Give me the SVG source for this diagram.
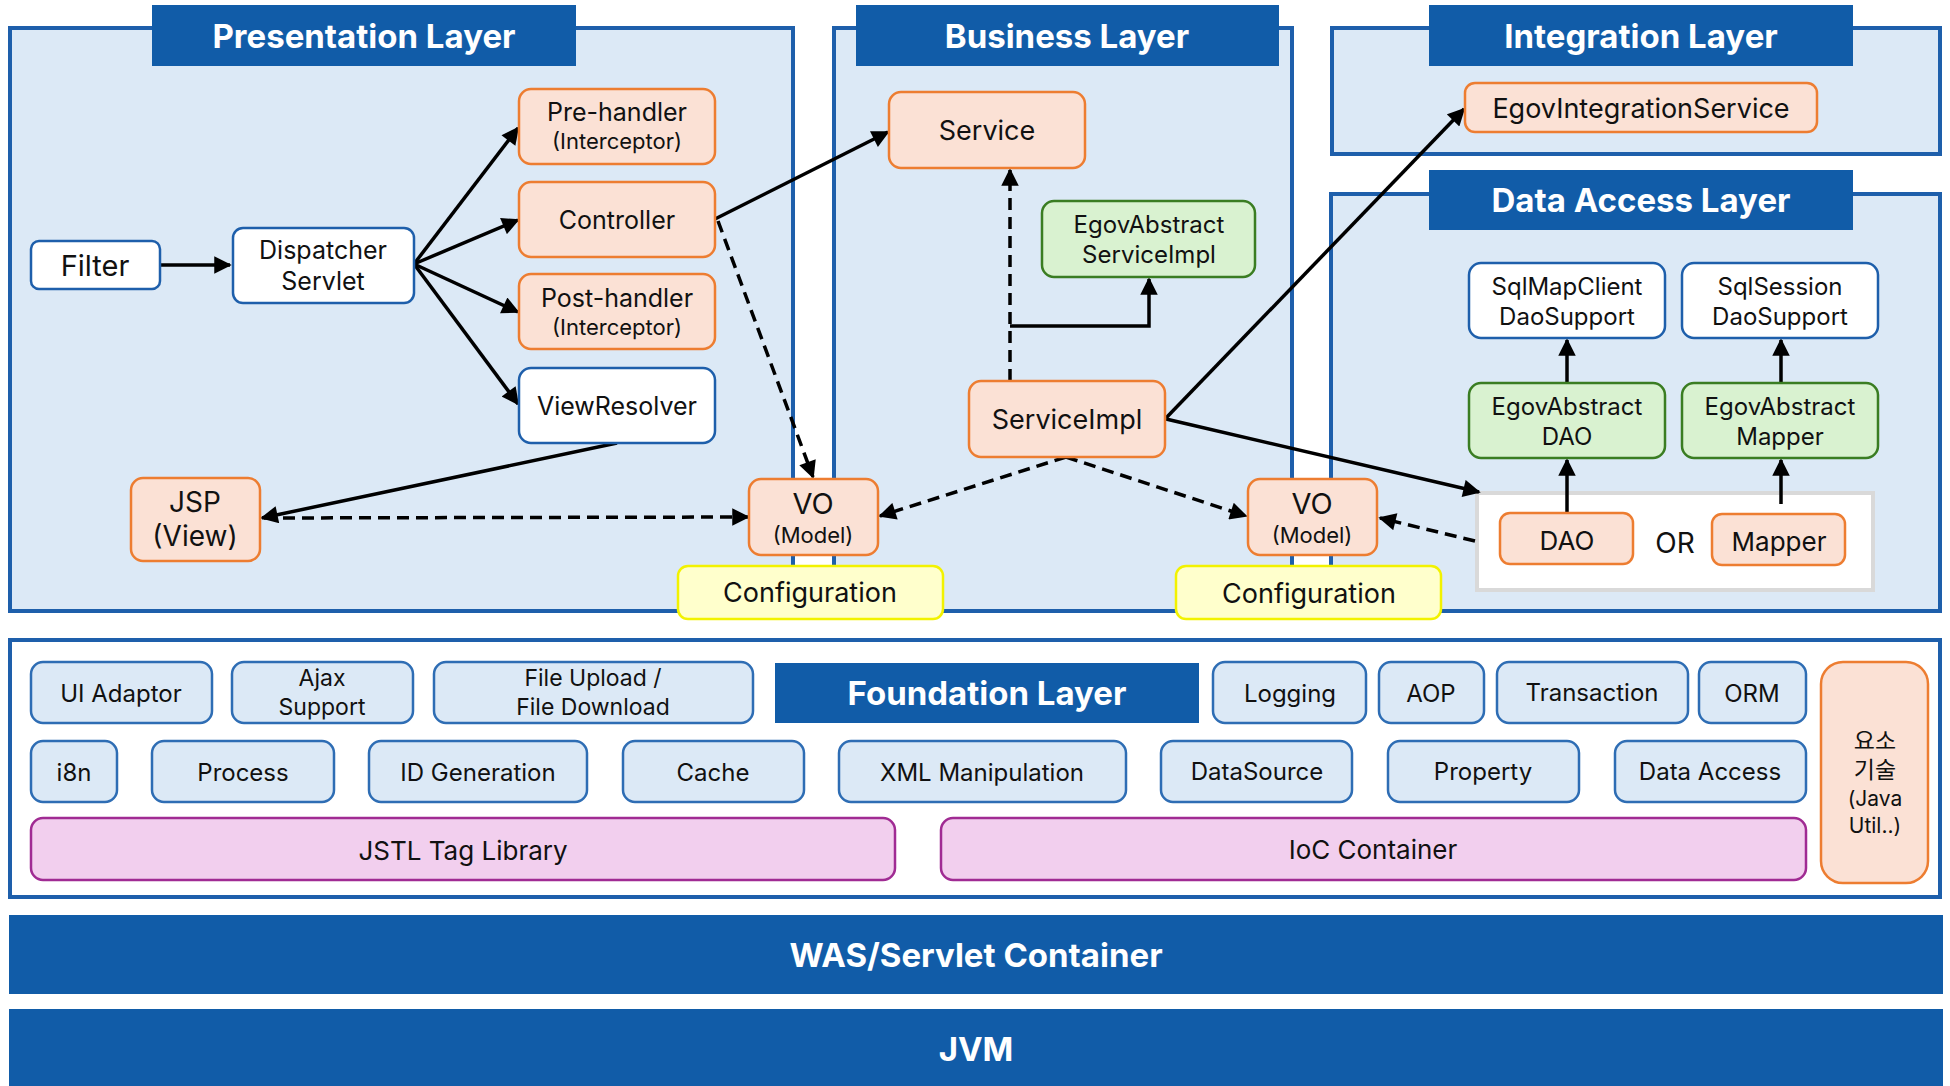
<svg xmlns="http://www.w3.org/2000/svg" width="1950" height="1086" viewBox="0 0 1950 1086">
<defs>
<style>
text{font-family:Inter,"Open Sans","Noto Sans CJK KR",sans-serif;fill:#111;text-anchor:middle;dominant-baseline:central}
.layer{fill:#DCE9F6;stroke:#1E5FAB;stroke-width:4}
.title{fill:#115CA8}
.ttl{fill:#fff;font-weight:bold;font-size:33px}
.org{fill:#FBE1D5;stroke:#ED7D31;stroke-width:2.5}
.grn{fill:#D9F2D0;stroke:#3A7D22;stroke-width:2.5}
.wht{fill:#fff;stroke:#1E5FAB;stroke-width:2.5}
.yel{fill:#FFFFCC;stroke:#F2F200;stroke-width:2.5}
.fnd{fill:#DCE9F6;stroke:#2E6DB4;stroke-width:2.5}
.pnk{fill:#F2CFEE;stroke:#A02B93;stroke-width:2.5}
.t26{font-size:26px}
.t25{font-size:25px}
.t24{font-size:24px}
.t21{font-size:22px}
.ln{stroke:#000;stroke-width:3.5;fill:none}
.ds{stroke:#000;stroke-width:3.5;fill:none;stroke-dasharray:12 7}
</style>
<marker id="ah" viewBox="0 0 10 10" refX="9" refY="5" markerWidth="5.5" markerHeight="5" orient="auto" markerUnits="strokeWidth">
<path d="M0,0 L10,5 L0,10 z" fill="#000"/>
</marker>
</defs>

<g id="layers">
<rect class="layer" x="10" y="28" width="783" height="583"/>
<rect class="layer" x="834" y="28" width="458" height="583"/>
<rect class="layer" x="1332" y="28" width="608" height="126"/>
<rect class="layer" x="1331" y="194" width="609" height="417"/>
<rect x="10" y="640" width="1930" height="257" fill="#fff" stroke="#1E5FAB" stroke-width="4"/>
</g>

<g id="titles">
<rect class="title" x="152" y="5" width="424" height="61"/>
<text class="ttl" x="364" y="36">Presentation Layer</text>
<rect class="title" x="856" y="5" width="423" height="61"/>
<text class="ttl" x="1067" y="36">Business Layer</text>
<rect class="title" x="1429" y="5" width="424" height="61"/>
<text class="ttl" x="1641" y="36">Integration Layer</text>
<rect class="title" x="1429" y="170" width="424" height="60"/>
<text class="ttl" x="1641" y="200">Data Access Layer</text>
<rect class="title" x="775" y="663" width="424" height="60"/>
<text class="ttl" x="987" y="693">Foundation Layer</text>
</g>

<g id="or-box">
<rect x="1477" y="493" width="396" height="97" fill="#fff" stroke="#D9D9D9" stroke-width="4"/>
<text x="1675" y="543" style="font-size:28px">OR</text>
</g>

<g id="connectors">
<line class="ln" x1="160" y1="265" x2="230" y2="265" marker-end="url(#ah)"/>
<line class="ln" x1="414" y1="264" x2="518" y2="128" marker-end="url(#ah)"/>
<line class="ln" x1="414" y1="264" x2="518" y2="220" marker-end="url(#ah)"/>
<line class="ln" x1="414" y1="264" x2="518" y2="312" marker-end="url(#ah)"/>
<line class="ln" x1="414" y1="264" x2="518" y2="404" marker-end="url(#ah)"/>
<line class="ln" x1="617" y1="443" x2="262" y2="518" marker-end="url(#ah)"/>
<line class="ds" x1="264" y1="518" x2="748" y2="517" marker-end="url(#ah)"/>
<line class="ln" x1="715" y1="219" x2="888" y2="132" marker-end="url(#ah)"/>
<line class="ds" x1="718" y1="221" x2="813" y2="477" marker-end="url(#ah)"/>
<line class="ds" x1="1010" y1="381" x2="1010" y2="170" marker-end="url(#ah)"/>
<polyline class="ln" points="1010,326 1149,326 1149,279" marker-end="url(#ah)"/>
<line class="ln" x1="1166" y1="418" x2="1464" y2="109" marker-end="url(#ah)"/>
<line class="ln" x1="1166" y1="419" x2="1479" y2="492" marker-end="url(#ah)"/>
<line class="ds" x1="1066" y1="457" x2="880" y2="516" marker-end="url(#ah)"/>
<line class="ds" x1="1066" y1="457" x2="1246" y2="516" marker-end="url(#ah)"/>
<line class="ds" x1="1475" y1="541" x2="1380" y2="518" marker-end="url(#ah)"/>
<line class="ln" x1="1567" y1="513" x2="1567" y2="460" marker-end="url(#ah)"/>
<line class="ln" x1="1567" y1="383" x2="1567" y2="340" marker-end="url(#ah)"/>
<line class="ln" x1="1781" y1="504" x2="1781" y2="460" marker-end="url(#ah)"/>
<line class="ln" x1="1781" y1="383" x2="1781" y2="340" marker-end="url(#ah)"/>
</g>

<g id="filter"><rect class="wht" x="31" y="241" width="129" height="48" rx="8"/><text x="95" y="265" style="font-size:29px">Filter</text></g>
<g id="dispatcher"><rect class="wht" x="233" y="228" width="181" height="75" rx="10"/><text class="t25"><tspan x="323" y="250">Dispatcher</tspan><tspan x="323" y="281">Servlet</tspan></text></g>
<g id="prehandler"><rect class="org" x="519" y="89" width="196" height="75" rx="12"/><text><tspan class="t25" x="617" y="112">Pre-handler</tspan><tspan class="t21" x="617" y="141">(Interceptor)</tspan></text></g>
<g id="controller"><rect class="org" x="519" y="182" width="196" height="75" rx="12"/><text class="t25" x="617" y="220">Controller</text></g>
<g id="posthandler"><rect class="org" x="519" y="274" width="196" height="75" rx="12"/><text><tspan class="t25" x="617" y="298">Post-handler</tspan><tspan class="t21" x="617" y="327">(Interceptor)</tspan></text></g>
<g id="viewresolver"><rect class="wht" x="519" y="368" width="196" height="75" rx="12"/><text class="t25" x="617" y="406">ViewResolver</text></g>
<g id="jsp"><rect class="org" x="131" y="478" width="129" height="83" rx="12"/><text style="font-size:28px"><tspan x="195" y="502">JSP</tspan><tspan x="195" y="536">(View)</tspan></text></g>
<g id="vo-left"><rect class="org" x="749" y="479" width="129" height="76" rx="12"/><text><tspan x="813" y="503" style="font-size:29px">VO</tspan><tspan class="t21" x="813" y="535">(Model)</tspan></text></g>
<g id="config-left"><rect class="yel" x="678" y="566" width="265" height="53" rx="10"/><text x="810" y="592" style="font-size:27px">Configuration</text></g>

<g id="service"><rect class="org" x="889" y="92" width="196" height="76" rx="12"/><text x="987" y="130" style="font-size:27px">Service</text></g>
<g id="egovabsserviceimpl"><rect class="grn" x="1042" y="201" width="213" height="76" rx="12"/><text class="t24"><tspan x="1149" y="224">EgovAbstract</tspan><tspan x="1149" y="254">ServiceImpl</tspan></text></g>
<g id="serviceimpl"><rect class="org" x="969" y="381" width="196" height="76" rx="12"/><text x="1067" y="419" style="font-size:27px">ServiceImpl</text></g>
<g id="vo-right"><rect class="org" x="1248" y="479" width="129" height="76" rx="12"/><text><tspan x="1312" y="503" style="font-size:29px">VO</tspan><tspan class="t21" x="1312" y="535">(Model)</tspan></text></g>
<g id="config-right"><rect class="yel" x="1176" y="566" width="265" height="53" rx="10"/><text x="1309" y="593" style="font-size:27px">Configuration</text></g>

<g id="egovintegration"><rect class="org" x="1465" y="83" width="352" height="49" rx="10"/><text x="1641" y="108" style="font-size:27px">EgovIntegrationService</text></g>
<g id="sqlmapclient"><rect class="wht" x="1469" y="263" width="196" height="75" rx="12"/><text class="t24"><tspan x="1567" y="286">SqlMapClient</tspan><tspan x="1567" y="316">DaoSupport</tspan></text></g>
<g id="sqlsession"><rect class="wht" x="1682" y="263" width="196" height="75" rx="12"/><text class="t24"><tspan x="1780" y="286">SqlSession</tspan><tspan x="1780" y="316">DaoSupport</tspan></text></g>
<g id="egovabsdao"><rect class="grn" x="1469" y="383" width="196" height="75" rx="12"/><text class="t24"><tspan x="1567" y="406">EgovAbstract</tspan><tspan x="1567" y="436">DAO</tspan></text></g>
<g id="egovabsmapper"><rect class="grn" x="1682" y="383" width="196" height="75" rx="12"/><text class="t24"><tspan x="1780" y="406">EgovAbstract</tspan><tspan x="1780" y="436">Mapper</tspan></text></g>
<g id="dao"><rect class="org" x="1500" y="513" width="133" height="51" rx="10"/><text x="1567" y="540" style="font-size:26px">DAO</text></g>
<g id="mapper"><rect class="org" x="1712" y="514" width="133" height="51" rx="10"/><text x="1779" y="541" style="font-size:26px">Mapper</text></g>

<g id="foundation-items">
<g id="ui-adaptor"><rect class="fnd" x="31" y="662" width="181" height="61" rx="12"/><text class="t24" x="121" y="693">UI Adaptor</text></g>
<g id="ajax"><rect class="fnd" x="232" y="662" width="181" height="61" rx="12"/><text style="font-size:23px"><tspan x="322" y="678">Ajax</tspan><tspan x="322" y="707">Support</tspan></text></g>
<g id="fileupload"><rect class="fnd" x="434" y="662" width="319" height="61" rx="12"/><text style="font-size:23px"><tspan x="593" y="678">File Upload /</tspan><tspan x="593" y="707">File Download</tspan></text></g>
<g id="logging"><rect class="fnd" x="1213" y="662" width="153" height="61" rx="12"/><text class="t24" x="1290" y="693">Logging</text></g>
<g id="aop"><rect class="fnd" x="1379" y="662" width="105" height="61" rx="12"/><text class="t24" x="1431" y="693">AOP</text></g>
<g id="transaction"><rect class="fnd" x="1497" y="662" width="191" height="61" rx="12"/><text class="t24" x="1592" y="692">Transaction</text></g>
<g id="orm"><rect class="fnd" x="1699" y="662" width="107" height="61" rx="12"/><text class="t24" x="1752" y="693">ORM</text></g>
<g id="i8n"><rect class="fnd" x="31" y="741" width="86" height="61" rx="12"/><text class="t24" x="74" y="772">i8n</text></g>
<g id="process"><rect class="fnd" x="152" y="741" width="182" height="61" rx="12"/><text class="t24" x="243" y="772">Process</text></g>
<g id="idgen"><rect class="fnd" x="369" y="741" width="218" height="61" rx="12"/><text class="t24" x="478" y="772">ID Generation</text></g>
<g id="cache"><rect class="fnd" x="623" y="741" width="181" height="61" rx="12"/><text class="t24" x="713" y="772">Cache</text></g>
<g id="xml"><rect class="fnd" x="839" y="741" width="287" height="61" rx="12"/><text class="t24" x="982" y="772">XML Manipulation</text></g>
<g id="datasource"><rect class="fnd" x="1161" y="741" width="191" height="61" rx="12"/><text class="t24" x="1257" y="771">DataSource</text></g>
<g id="property"><rect class="fnd" x="1388" y="741" width="191" height="61" rx="12"/><text class="t24" x="1483" y="771">Property</text></g>
<g id="dataaccess"><rect class="fnd" x="1615" y="741" width="191" height="61" rx="12"/><text class="t24" x="1710" y="771">Data Access</text></g>
<g id="jstl"><rect class="pnk" x="31" y="818" width="864" height="62" rx="12"/><text class="t26" x="463" y="850">JSTL Tag Library</text></g>
<g id="ioc"><rect class="pnk" x="941" y="818" width="865" height="62" rx="12"/><text class="t26" x="1373" y="849">IoC Container</text></g>
<g id="yoso"><rect class="org" x="1821" y="662" width="107" height="221" rx="22"/><text><tspan x="1875" y="741" style="font-size:23px">요소</tspan><tspan x="1875" y="770" style="font-size:23px">기술</tspan><tspan x="1875" y="798" style="font-size:21px">(Java</tspan><tspan x="1875" y="825" style="font-size:21px">Util..)</tspan></text></g>
</g>

<g id="was"><rect class="title" x="9" y="915" width="1934" height="79"/><text class="ttl" x="976" y="955">WAS/Servlet Container</text></g>
<g id="jvm"><rect class="title" x="9" y="1009" width="1934" height="77"/><text class="ttl" x="976" y="1049">JVM</text></g>
</svg>
